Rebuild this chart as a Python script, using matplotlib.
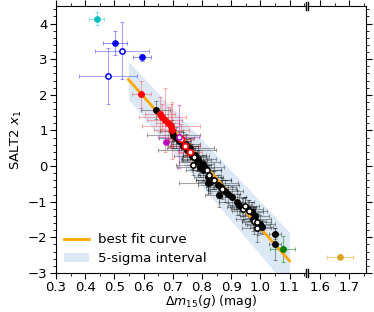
import matplotlib
matplotlib.use("Agg")
import matplotlib.pyplot as plt
import numpy as np

# ---- data ----
# best fit line and 5-sigma band end points
fit_x = [0.548, 1.10]
fit_y = [2.43, -2.66]
band_lo = [1.87, -3.46]
band_hi = [2.93, -1.86]

# black filled points: x, y, xerr, yerr
blk_x = [0.641, 0.696, 0.702, 0.712, 0.722, 0.735, 0.748, 0.765, 0.775, 0.782,
         0.791, 0.802, 0.795, 0.804, 0.812, 0.822, 0.827, 0.839, 0.822, 0.856,
         0.859, 0.879, 0.890, 0.902, 0.919, 0.928, 0.936, 0.948, 0.959, 0.970,
         0.976, 0.981, 0.993, 0.999, 1.004, 1.050, 1.050, 0.760, 0.788, 0.865]
blk_y = [1.57, 0.98, 0.86, 0.80, 0.70, 0.55, 0.45, 0.27, 0.30, 0.16,
         0.11, 0.07, -0.02, -0.12, -0.05, -0.31, -0.45, -0.40, -0.48, -0.54,
         -0.80, -0.70, -0.78, -0.87, -1.01, -1.08, -1.15, -1.18, -1.20, -1.30,
         -1.48, -1.39, -1.64, -1.62, -1.70, -1.90, -2.19, 0.50, 0.20, -0.60]
blk_xe = [0.05, 0.04, 0.09, 0.06, 0.04, 0.05, 0.10, 0.06, 0.04, 0.05,
          0.07, 0.04, 0.08, 0.06, 0.03, 0.05, 0.04, 0.06, 0.10, 0.07,
          0.05, 0.06, 0.04, 0.05, 0.06, 0.04, 0.05, 0.03, 0.05, 0.04,
          0.06, 0.05, 0.04, 0.05, 0.04, 0.02, 0.02, 0.08, 0.06, 0.05]
blk_ye = [0.25, 0.30, 0.35, 0.30, 0.25, 0.40, 0.30, 0.35, 0.25, 0.30,
          0.35, 0.25, 0.30, 0.30, 0.20, 0.35, 0.30, 0.25, 0.30, 0.30,
          0.35, 0.30, 0.25, 0.30, 0.35, 0.30, 0.25, 0.30, 0.25, 0.30,
          0.35, 0.25, 0.30, 0.25, 0.20, 0.15, 0.45, 0.30, 0.35, 0.30]

# white (open) points
wht_x = [0.745, 0.773, 0.770, 0.816, 0.825, 0.841, 0.870, 0.941, 0.947, 0.962,
         0.978, 0.987, 0.987]
wht_y = [0.61, 0.25, 0.04, -0.12, -0.26, -0.40, -0.63, -1.20, -1.11, -1.25,
         -1.55, -1.58, -1.74]
wht_xe = [0.05, 0.04, 0.06, 0.05, 0.04, 0.06, 0.05, 0.04, 0.05, 0.06,
          0.04, 0.05, 0.05]
wht_ye = [0.30, 0.25, 0.30, 0.35, 0.30, 0.25, 0.30, 0.30, 0.25, 0.30,
          0.35, 0.25, 0.40]

# red filled / red open
red_x = [0.592, 0.656, 0.664, 0.673, 0.682, 0.693, 0.696]
red_y = [2.01, 1.45, 1.38, 1.29, 1.21, 1.13, 1.00]
red_xe = [0.033, 0.05, 0.08, 0.06, 0.04, 0.10, 0.06]
red_ye = [0.38, 0.50, 0.35, 0.90, 0.45, 0.60, 0.80]
redo_x = [0.728, 0.742, 0.759]
redo_y = [0.77, 0.56, 0.39]
redo_xe = [0.04, 0.05, 0.04]
redo_ye = [0.40, 0.30, 0.35]

# magenta
mag_x = [0.677]
mag_y = [0.68]
mago_x = [0.721]
mago_y = [0.82]
mago_xe = [0.07]
mago_ye = [0.88]

# blue filled / blue open
blu_x = [0.502, 0.596]
blu_y = [3.46, 3.05]
blu_xe = [0.041, 0.031]
blu_ye = [0.33, 0.10]
bluo_x = [0.527, 0.479]
bluo_y = [3.23, 2.52]
bluo_xe = [0.092, 0.10]
bluo_ye = [0.80, 0.79]

# cyan, green, gold
cyn_x, cyn_y, cyn_xe, cyn_ye = [0.439], [4.13], [0.027], [0.18]
grn_x, grn_y, grn_xe, grn_ye = [1.076], [-2.32], [0.044], [0.37]
gld_x, gld_y, gld_xe, gld_ye = [1.669], [-2.55], [0.046], [0.07]

plt.rcParams['font.size'] = 9.5

fig = plt.figure(figsize=(3.74, 3.12), dpi=100)
W, H = 374.0, 312.0
ax = fig.add_axes([56 / W, 1 - 273 / H, 249 / W, 267.3 / H])
ax2 = fig.add_axes([308 / W, 1 - 273 / H, 58 / W, 267.3 / H], sharey=ax)

ek = dict(fmt='none', capsize=1.5, elinewidth=0.8, capthick=0.8)

ax.fill_between(fit_x, band_lo, band_hi, color='#c6dbef', alpha=0.6, lw=0,
                label='5-sigma interval')

ax.errorbar(blk_x, blk_y, xerr=blk_xe, yerr=blk_ye, ecolor='k', alpha=0.35, **ek)
ax.errorbar(wht_x, wht_y, xerr=wht_xe, yerr=wht_ye, ecolor='k', alpha=0.35, **ek)
ax.errorbar(red_x, red_y, xerr=red_xe, yerr=red_ye, ecolor='red', alpha=0.3, **ek)
ax.errorbar(redo_x, redo_y, xerr=redo_xe, yerr=redo_ye, ecolor='red', alpha=0.3, **ek)
ax.errorbar(mago_x, mago_y, xerr=mago_xe, yerr=mago_ye, ecolor='m', alpha=0.4, **ek)
ax.errorbar(blu_x, blu_y, xerr=blu_xe, yerr=blu_ye, ecolor='b', alpha=0.4, **ek)
ax.errorbar(bluo_x, bluo_y, xerr=bluo_xe, yerr=bluo_ye, ecolor='b', alpha=0.35, **ek)
ax.errorbar(cyn_x, cyn_y, xerr=cyn_xe, yerr=cyn_ye, ecolor='c', alpha=0.4, **ek)
ax.errorbar(grn_x, grn_y, xerr=grn_xe, yerr=grn_ye, ecolor='g', alpha=0.5, **ek)
ax2.errorbar(gld_x, gld_y, xerr=gld_xe, yerr=gld_ye, ecolor='goldenrod', alpha=0.5, **ek)

ax.plot(fit_x, fit_y, color='orange', lw=2, label='best fit curve', zorder=3)

ax.plot(blk_x, blk_y, 'o', color='k', ms=4, zorder=4)
ax.plot(wht_x, wht_y, 'o', mfc='white', mec='k', mew=1.1, ms=3.8, zorder=4)
ax.plot(red_x, red_y, 'o', color='red', ms=4, zorder=5)
ax.plot(redo_x, redo_y, 'o', mfc='white', mec='red', mew=1.4, ms=4.2, zorder=5)
ax.plot(mag_x, mag_y, 'o', color='m', ms=3.8, zorder=5)
ax.plot(mago_x, mago_y, 'o', mfc='white', mec='m', mew=1.1, ms=3.8, zorder=5)
ax.plot(blu_x, blu_y, 'o', color='b', ms=3.8, zorder=5)
ax.plot(bluo_x, bluo_y, 'o', mfc='white', mec='b', mew=1.1, ms=3.8, zorder=5)
ax.plot(cyn_x, cyn_y, 'o', color='c', ms=3.8, zorder=5)
ax.plot(grn_x, grn_y, 'o', color='g', ms=4, zorder=5)
ax2.plot(gld_x, gld_y, 'o', color='goldenrod', ms=3.8, zorder=5)

ax.set_xlim(0.3, 1.153)
ax2.set_xlim(1.559, 1.758)
ax.set_ylim(-3, 4.5)

ax.set_xticks(np.arange(0.3, 1.11, 0.1))
ax.set_xticks(np.arange(0.35, 1.16, 0.05), minor=True)
ax2.set_xticks([1.6, 1.7])
ax2.set_xticks([1.65, 1.75], minor=True)
ax.set_yticks(np.arange(-3, 5, 1))
ax.set_yticks(np.arange(-3, 4.5, 0.2), minor=True)

ax.spines['right'].set_visible(False)
ax2.spines['left'].set_visible(False)
ax.tick_params(which='both', top=True, right=False)
ax2.tick_params(which='both', top=True, left=False, labelleft=False,
                right=True)
for a in (ax, ax2):
    a.tick_params(which='major', length=4, pad=2)
    a.tick_params(which='minor', length=2)

# break marks
for xp in (305.5 / W, 307.5 / W):
    for yp in (1 - 273 / H, 1 - 5.7 / H):
        fig.add_artist(plt.Line2D([xp, xp], [yp - 4 / H, yp + 4 / H],
                                  color='k', lw=1))

ax.set_ylabel('SALT2 $x_1$', labelpad=3)
fig.text((56 + 366) / 2 / W, 1 - 302 / H, r'$\Delta m_{15}(g)$ (mag)',
         ha='center', va='center', fontsize=9)

h, l = ax.get_legend_handles_labels()
ax.legend(h[::-1], l[::-1], loc='lower left', frameon=False,
          handlelength=1.9, borderaxespad=0.2, handletextpad=0.7,
          labelspacing=0.45)

fig.savefig('out.png', dpi=100)
